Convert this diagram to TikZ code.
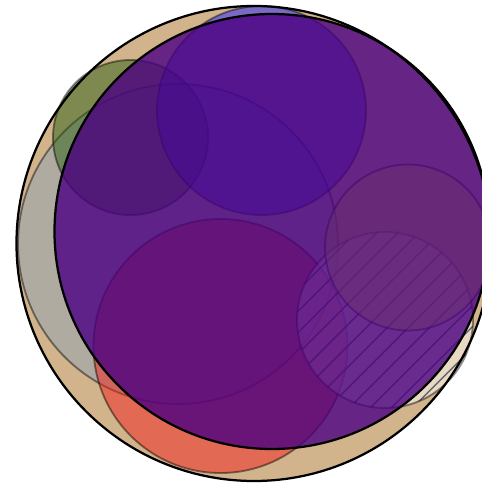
\documentclass[tikz,border=0pt]{standalone}
\usetikzlibrary{patterns.meta}
\definecolor{discTan}{RGB}{210,180,140}
\definecolor{discGray}{RGB}{142,164,180}
\definecolor{discGreen}{RGB}{44,96,20}
\definecolor{discBlue}{RGB}{34,34,252}
\definecolor{discRed}{RGB}{242,32,28}
\definecolor{discYellow}{RGB}{230,230,30}
\definecolor{discIndigo}{RGB}{75,0,130}
\begin{document}
\begin{tikzpicture}[x=0.025cm, y=0.025cm, line width=1.3pt]
  \useasboundingbox (0,0) rectangle (482,483);
  \clip (0,0) rectangle (482,483);
  % outer disc, then the small ones, then the big indigo one on top
  \fill[discTan] (254,239.5) circle (237.5);
  \foreach \cx/\cy/\r/\col in {
      178/239/160/discGray,
      130.5/345.5/77.5/discGreen,
      261.5/372.5/104.5/discBlue,
      220.5/137/127/discRed} {
    \fill[\col, fill opacity=0.5] (\cx,\cy) circle (\r);
    \draw[black, draw opacity=0.45] (\cx,\cy) circle (\r);
  }
  \fill[white, fill opacity=0.5] (385,163) circle (88);
  \pattern[pattern={Lines[angle=45, distance=10.6pt, line width=1pt]},
    pattern color=black!60, fill opacity=0.45] (385,163) circle (88);
  \draw[black, draw opacity=0.45] (385,163) circle (88);
  \fill[discYellow, fill opacity=0.5] (408,235.5) circle (83);
  \draw[black, draw opacity=0.45] (408,235.5) circle (83);
  \fill[discIndigo, fill opacity=0.8] (272,251.5) circle (217.5);
  \draw[line width=1.6pt] (272,251.5) circle (217.5);
  \draw[line width=1.6pt] (254,239.5) circle (237.5);
\end{tikzpicture}
\end{document}
